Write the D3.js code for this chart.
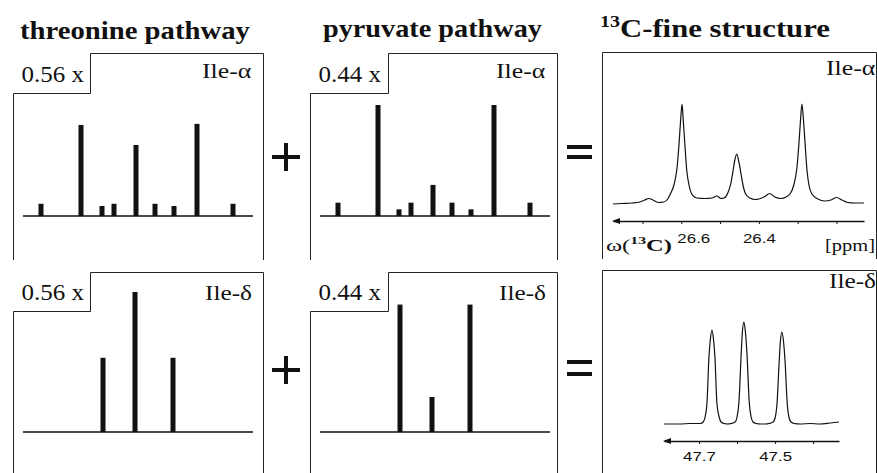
<!DOCTYPE html>
<html>
<head>
<meta charset="utf-8">
<script src="https://cdn.jsdelivr.net/npm/d3@7"></script>
<style>
  html, body { margin: 0; padding: 0; background: #fff; }
  svg { display: block; }
</style>
</head>
<body>
<svg id="chart" width="877" height="473"></svg>
<script>
// Ile-alpha multiplet: line offsets and relative intensities
const alphaPos = [-97, -57, -36, -24, -2, 17, 36, 59, 95];
const alphaThreonine = [0.11, 0.82, 0.09, 0.11, 0.64, 0.11, 0.09, 0.83, 0.11];
const alphaPyruvate = [0.12, 1.0, 0.06, 0.12, 0.28, 0.12, 0.06, 1.0, 0.12];

// Ile-delta multiplet
const deltaPos = [-35, -3, 35];
const deltaThreonine = [0.53, 1.0, 0.53];
const deltaPyruvate = [0.91, 0.25, 0.91];

const weights = ['0.56 x', '0.44 x'];
const titles = ['threonine pathway', 'pyruvate pathway'];

// measured 13C fine structure, [ppm, intensity]
const alphaSpectrum = [
  [26.776, -1], [26.753, -0.5], [26.727, 0], [26.707, 1], [26.694, 3], [26.684, 4.5],
  [26.673, 3], [26.660, 0.5], [26.645, 1], [26.635, 4], [26.627, 10], [26.619, 18],
  [26.611, 35], [26.606, 58], [26.602, 81], [26.598, 99], [26.595, 83], [26.591, 60],
  [26.586, 33], [26.580, 18], [26.573, 9], [26.560, 5], [26.539, 4.5], [26.521, 5],
  [26.508, 7], [26.498, 4.5], [26.490, 5], [26.480, 10], [26.472, 20], [26.467, 31],
  [26.462, 43], [26.457, 49], [26.452, 42], [26.446, 29], [26.441, 18], [26.434, 9],
  [26.423, 5], [26.410, 3.5], [26.400, 4], [26.387, 6], [26.372, 9.5], [26.359, 6],
  [26.343, 4.5], [26.330, 6], [26.318, 10], [26.310, 18], [26.302, 35], [26.297, 58],
  [26.293, 81], [26.289, 99], [26.285, 83], [26.281, 60], [26.276, 33], [26.271, 18],
  [26.263, 9], [26.248, 4], [26.230, 2], [26.214, 3], [26.199, 5.5], [26.186, 3],
  [26.171, 0.5], [26.153, 0], [26.129, 0]
];
const deltaSpectrum = [
  [47.792, 0], [47.750, 0], [47.724, 0.5], [47.697, 0.5], [47.689, 2], [47.684, 7],
  [47.679, 21], [47.674, 66], [47.670, 85], [47.666, 94], [47.662, 85], [47.658, 66],
  [47.653, 21], [47.647, 7], [47.642, 2], [47.634, 0.5], [47.624, 0], [47.616, 0.5],
  [47.605, 2], [47.600, 7], [47.595, 22], [47.589, 71], [47.586, 92], [47.582, 102],
  [47.578, 92], [47.574, 71], [47.568, 22], [47.563, 7], [47.558, 2], [47.550, 0.5],
  [47.539, 0], [47.526, 0], [47.516, 0.5], [47.505, 2], [47.500, 6], [47.495, 20],
  [47.489, 64], [47.486, 83], [47.482, 92], [47.478, 83], [47.474, 64], [47.468, 20],
  [47.463, 6], [47.458, 2], [47.450, 0.5], [47.434, 0], [47.408, 0.5], [47.382, 0],
  [47.355, 1], [47.332, 2]
];
const alphaTicks = [26.7, 26.6, 26.5, 26.4, 26.3, 26.2];
const alphaTickLabels = [26.6, 26.4];
const deltaTicks = [47.7, 47.6, 47.5, 47.4];
const deltaTickLabels = [47.7, 47.5];

const SERIF = '"Liberation Serif", "Tinos", "Times New Roman", "DejaVu Serif", serif';
const SANS = '"Liberation Sans", Arimo, Arial, "DejaVu Sans", sans-serif';

const svg = d3.select('#chart');

// layout of the stick panels
const cols = [{ x0: 13, notch: 90, x1: 263 }, { x0: 310, notch: 388, x1: 557 }];
const rows = [
  { top: 53, notch: 93, bottom: 260, base: 216, full: 111, textY: 82, nameY: 78 },
  { top: 272, notch: 311, bottom: 480, base: 432, full: 140, textY: 300, nameY: 300 }
];

// text stretched horizontally to the width seen in the scan
function addText(left, baseline, width, size, build) {
  const t = svg.append('text')
    .style('font-family', SERIF)
    .style('font-size', size + 'px')
    .attr('fill', '#111');
  build(t);
  const w = t.node().getBBox().width;
  t.attr('transform', `translate(${left},${baseline}) scale(${width / w},1)`);
  return t;
}

// column titles
addText(20, 39, 230, 26, t => t.style('font-weight', 'bold').text(titles[0]));
addText(323, 37, 219, 26, t => t.style('font-weight', 'bold').text(titles[1]));
addText(600, 37, 230, 26, t => {
  t.style('font-weight', 'bold');
  t.append('tspan').style('font-size', '17px').attr('dy', -10).text('13');
  t.append('tspan').attr('dy', 10).text('C-fine structure');
});

function stickPanel(col, row, pos, vals, name) {
  const c = cols[col], r = rows[row];
  const g = svg.append('g');

  g.append('path')
    .attr('d', `M${c.x0 + 0.5},${r.bottom}V${r.notch + 0.5}H${c.notch + 0.5}V${r.top + 0.5}H${c.x1 + 0.5}V${r.bottom}`)
    .attr('fill', 'none')
    .attr('stroke', '#222')
    .attr('stroke-width', 1);

  const x = d3.scaleLinear().domain([-115, 115]).range([c.x0 + 10, c.x0 + 240]);
  const y = d3.scaleLinear().domain([0, 1]).range([r.base, r.base - r.full]);

  g.append('line')
    .attr('x1', x(-115)).attr('x2', x(115))
    .attr('y1', r.base).attr('y2', r.base)
    .attr('stroke', '#111')
    .attr('stroke-width', 1.5);

  g.selectAll('rect')
    .data(vals)
    .enter()
    .append('rect')
    .attr('x', (d, i) => x(pos[i]) - 2.5)
    .attr('width', 5)
    .attr('y', d => y(d))
    .attr('height', d => r.base - y(d))
    .attr('fill', '#111');

  addText(c.x0 + 8.5, r.textY, 63, 23, t => t.text(weights[col]));
  const nw = name === 'Ile-α' ? 50 : 47;
  addText(c.x1 - 11 - nw, r.nameY, nw, 20, t => t.text(name));
}

stickPanel(0, 0, alphaPos, alphaThreonine, 'Ile-α');
stickPanel(1, 0, alphaPos, alphaPyruvate, 'Ile-α');
stickPanel(0, 1, deltaPos, deltaThreonine, 'Ile-δ');
stickPanel(1, 1, deltaPos, deltaPyruvate, 'Ile-δ');

// plus and equals signs
[157, 370].forEach(cy => {
  svg.append('path')
    .attr('d', `M272,${cy}H300M286,${cy - 14}V${cy + 14}`)
    .attr('stroke', '#111').attr('stroke-width', 4).attr('fill', 'none');
});
[[147, 157], [362, 374]].forEach(([a, b]) => {
  svg.append('path')
    .attr('d', `M567,${a}H592M567,${b}H592`)
    .attr('stroke', '#111').attr('stroke-width', 4).attr('fill', 'none');
});

function spectrumPanel(opt) {
  const g = svg.append('g');
  g.append('path')
    .attr('d', `M602.5,${opt.bottom}V${opt.top + 0.5}H876.5V${opt.bottom}`)
    .attr('fill', 'none')
    .attr('stroke', '#222')
    .attr('stroke-width', 1);

  const x = d3.scaleLinear().domain(opt.ppm).range(opt.xr);
  const y = d3.scaleLinear().domain(opt.int).range(opt.yr);

  const line = d3.line()
    .x(d => x(d[0]))
    .y(d => y(d[1]))
    .curve(d3.curveMonotoneX);

  g.append('path')
    .datum(opt.data)
    .attr('d', line)
    .attr('fill', 'none')
    .attr('stroke', '#111')
    .attr('stroke-width', 1.2);

  const axis = d3.axisBottom(x)
    .tickValues(opt.ticks)
    .tickSize(3)
    .tickSizeOuter(0)
    .tickPadding(opt.pad)
    .tickFormat(d => opt.labels.includes(d) ? d3.format('.1f')(d) : '');

  const ax = g.append('g')
    .attr('transform', `translate(0,${opt.axisY})`)
    .call(axis);
  ax.select('.domain').attr('stroke', '#111').attr('stroke-width', 1.5);
  ax.selectAll('.tick line').attr('stroke', '#111');
  ax.selectAll('.tick text')
    .style('font-family', SANS)
    .style('font-size', '13px')
    .attr('fill', '#111')
    .attr('transform', (d, i) => `translate(${i === 1 && opt.shiftFirst ? opt.shiftFirst : 0},0) scale(1.3,1)`);

  // arrow head on the ppm axis
  const x0 = opt.xr[0];
  g.append('path')
    .attr('d', `M${x0 - 1},${opt.axisY}L${x0 + 7},${opt.axisY - 3}L${x0 + 7},${opt.axisY + 3}Z`)
    .attr('fill', '#111');
  return g;
}

spectrumPanel({
  top: 52, bottom: 259,
  data: alphaSpectrum,
  ppm: [26.776, 26.129], xr: [613, 864],
  int: [0, 99], yr: [203, 104],
  axisY: 221, ticks: alphaTicks, labels: alphaTickLabels, pad: 10, shiftFirst: 12
});
spectrumPanel({
  top: 270, bottom: 480,
  data: deltaSpectrum,
  ppm: [47.792, 47.332], xr: [664, 839],
  int: [0, 102], yr: [424, 322],
  axisY: 441, ticks: deltaTicks, labels: deltaTickLabels, pad: 8
});

addText(826, 75, 50, 20, t => t.text('Ile-α'));
addText(829, 288, 47, 20, t => t.text('Ile-δ'));
addText(606, 251, 66, 17, t => {
  t.append('tspan').text('ω(');
  t.append('tspan').style('font-weight', 'bold').style('font-size', '11px').attr('dy', -7).text('13');
  t.append('tspan').style('font-weight', 'bold').attr('dy', 7).text('C)');
});
addText(825, 251, 50, 17, t => t.text('[ppm]'));
</script>
</body>
</html>
